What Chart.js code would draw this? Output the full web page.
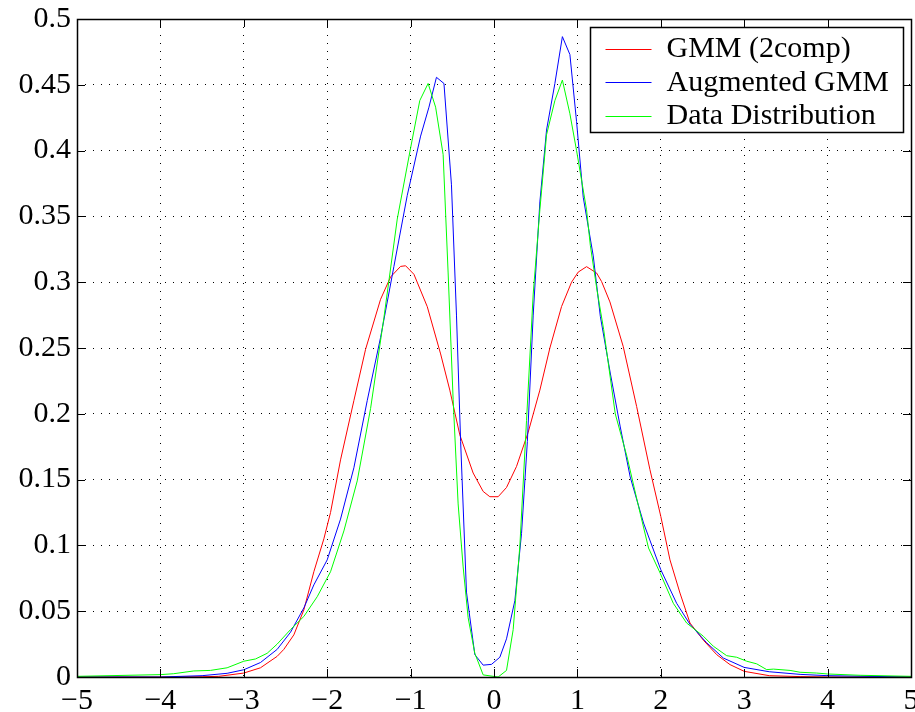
<!DOCTYPE html>
<html lang="en">
<head>
<meta charset="utf-8">
<title>GMM (2comp) vs Augmented GMM vs Data Distribution</title>
<script src="https://cdn.jsdelivr.net/npm/chart.js@4.4.0/dist/chart.umd.min.js"></script>
<style>
  html, body { margin: 0; padding: 0; background: #fff; }
  #wrap { width: 915px; height: 712px; }
</style>
</head>
<body>
<div id="wrap"><canvas id="chart" width="915" height="712"></canvas></div>
<script>
// series labels
const seriesNames = ['GMM (2comp)', 'Augmented GMM', 'Data Distribution'];

// GMM (2comp) - red
const gmmX = [-5, -4, -3.5, -3.3, -3, -2.8, -2.6, -2.52, -2.4, -2.28, -2.16, -2.04, -1.96, -1.84, -1.68, -1.54, -1.36, -1.24, -1.12, -1.06, -0.96, -0.8, -0.64, -0.53, -0.41, -0.25, -0.13, -0.05, 0.05, 0.15, 0.27, 0.41, 0.55, 0.67, 0.81, 0.93, 1.01, 1.11, 1.23, 1.29, 1.39, 1.55, 1.71, 1.87, 2.0, 2.11, 2.23, 2.35, 2.51, 2.67, 2.83, 3.0, 3.3, 3.67, 4, 5];
const gmmY = [0, 0, 0.0002, 0.0005, 0.003, 0.007, 0.0157, 0.021, 0.032, 0.051, 0.08, 0.105, 0.125, 0.165, 0.21, 0.249, 0.287, 0.304, 0.312, 0.3125, 0.306, 0.2814, 0.2455, 0.218, 0.184, 0.155, 0.141, 0.137, 0.137, 0.144, 0.16, 0.186, 0.218, 0.25, 0.2815, 0.30, 0.3077, 0.3118, 0.307, 0.3005, 0.285, 0.251, 0.2056, 0.1575, 0.122, 0.089, 0.0638, 0.041, 0.028, 0.017, 0.0094, 0.0043, 0.001, 0.0003, 0, 0];

// Augmented GMM - blue
const augX = [-5, -4, -3.5, -3.2, -3, -2.8, -2.6, -2.44, -2.28, -2.16, -2.0, -1.84, -1.68, -1.52, -1.36, -1.2, -1.04, -0.88, -0.78, -0.69, -0.6, -0.51, -0.45, -0.4, -0.33, -0.23, -0.13, -0.03, 0.07, 0.15, 0.25, 0.33, 0.4, 0.47, 0.55, 0.63, 0.73, 0.82, 0.91, 0.99, 1.07, 1.19, 1.275, 1.394, 1.514, 1.633, 1.793, 2.0, 2.19, 2.35, 2.55, 2.75, 3.0, 3.3, 3.67, 4, 5];
const augY = [0, 0, 0.001, 0.0028, 0.0055, 0.011, 0.021, 0.034, 0.0525, 0.07, 0.089, 0.12, 0.159, 0.21, 0.258, 0.312, 0.366, 0.411, 0.433, 0.4557, 0.451, 0.374, 0.275, 0.179, 0.0645, 0.017, 0.009, 0.0096, 0.015, 0.029, 0.058, 0.109, 0.179, 0.275, 0.361, 0.4156, 0.451, 0.4866, 0.473, 0.422, 0.3645, 0.32, 0.274, 0.231, 0.19, 0.152, 0.117, 0.0815, 0.056, 0.04, 0.026, 0.0144, 0.0073, 0.004, 0.002, 0.001, 0];

// Data Distribution - green
const dataX = [-5, -4, -3.84, -3.6, -3.4, -3.2, -3, -2.86, -2.72, -2.6, -2.44, -2.28, -2.12, -1.96, -1.8, -1.64, -1.48, -1.32, -1.16, -1.0, -0.89, -0.79, -0.7, -0.61, -0.55, -0.49, -0.43, -0.37, -0.31, -0.23, -0.13, 0.05, 0.15, 0.23, 0.31, 0.39, 0.47, 0.55, 0.63, 0.73, 0.82, 0.91, 0.99, 1.11, 1.155, 1.235, 1.315, 1.454, 1.594, 1.733, 1.853, 1.992, 2.15, 2.31, 2.51, 2.63, 2.79, 2.91, 3.03, 3.15, 3.27, 3.35, 3.55, 3.67, 3.87, 4, 4.39, 5];
const dataY = [0.0005, 0.0018, 0.0025, 0.0046, 0.005, 0.007, 0.012, 0.0137, 0.018, 0.025, 0.036, 0.046, 0.061, 0.08, 0.111, 0.149, 0.204, 0.273, 0.348, 0.402, 0.438, 0.451, 0.433, 0.397, 0.307, 0.211, 0.1315, 0.0836, 0.045, 0.018, 0.0016, 0, 0.005, 0.036, 0.0996, 0.195, 0.291, 0.355, 0.412, 0.438, 0.4536, 0.428, 0.40, 0.355, 0.328, 0.294, 0.264, 0.2, 0.1676, 0.1296, 0.098, 0.079, 0.056, 0.041, 0.031, 0.0234, 0.0162, 0.015, 0.012, 0.01, 0.0056, 0.006, 0.005, 0.0036, 0.003, 0.0023, 0.0013, 0.0005];

// axis ticks
const xTicks = [-5, -4, -3, -2, -1, 0, 1, 2, 3, 4, 5];
const yTicks = [0, 0.05, 0.1, 0.15, 0.2, 0.25, 0.3, 0.35, 0.4, 0.45, 0.5];

const FONT = "'Liberation Serif', 'Times New Roman', serif";
const FONT_SIZE = 30;

function toPoints(xs, ys) {
    return xs.map((x, i) => ({ x: x, y: ys[i] }));
}

// matlab style box, inner tick marks and boxed legend
const matlabAxes = {
    id: 'matlabAxes',
    afterDraw(chart) {
        const ctx = chart.ctx;
        const area = chart.chartArea;
        const xs = chart.scales.x;
        const ys = chart.scales.y;
        const tickLen = 8;

        ctx.save();
        ctx.strokeStyle = '#000';
        ctx.lineWidth = 1;
        ctx.setLineDash([]);
        ctx.beginPath();
        xTicks.forEach(v => {
            const px = Math.round(xs.getPixelForValue(v)) + 0.5;
            ctx.moveTo(px, area.bottom); ctx.lineTo(px, area.bottom - tickLen);
            ctx.moveTo(px, area.top); ctx.lineTo(px, area.top + tickLen);
        });
        yTicks.forEach(v => {
            const py = Math.round(ys.getPixelForValue(v)) + 0.5;
            ctx.moveTo(area.left, py); ctx.lineTo(area.left + tickLen, py);
            ctx.moveTo(area.right, py); ctx.lineTo(area.right - tickLen, py);
        });
        ctx.stroke();

        ctx.lineWidth = 1.5;
        ctx.strokeRect(Math.round(area.left) + 0.5, Math.round(area.top) + 0.5,
            Math.round(area.right - area.left), Math.round(area.bottom - area.top));

        // legend
        const boxW = 313, boxH = 105;
        const bx = Math.round(area.right - 8 - boxW) + 0.5;
        const by = Math.round(area.top + 8) + 0.5;
        ctx.fillStyle = '#fff';
        ctx.fillRect(bx, by, boxW, boxH);
        ctx.lineWidth = 1.5;
        ctx.strokeStyle = '#000';
        ctx.strokeRect(bx, by, boxW, boxH);
        ctx.font = FONT_SIZE + 'px ' + FONT;
        ctx.textBaseline = 'middle';
        ctx.textAlign = 'left';
        chart.data.datasets.forEach((ds, i) => {
            const cy = by + 21 + i * 33.5;
            ctx.strokeStyle = ds.borderColor;
            ctx.lineWidth = 1;
            ctx.beginPath();
            ctx.moveTo(bx + 15, Math.round(cy) + 0.5);
            ctx.lineTo(bx + 61, Math.round(cy) + 0.5);
            ctx.stroke();
            ctx.fillStyle = '#000';
            ctx.fillText(ds.label, bx + 76, cy + 1);
        });
        ctx.restore();
    }
};

const chartConfig = {
    type: 'line',
    data: {
        datasets: [
            { label: seriesNames[0], data: toPoints(gmmX, gmmY), borderColor: '#ff0000', order: 3 },
            { label: seriesNames[1], data: toPoints(augX, augY), borderColor: '#0000ff', order: 2 },
            { label: seriesNames[2], data: toPoints(dataX, dataY), borderColor: '#00ff00', order: 1 }
        ]
    },
    options: {
        responsive: false,
        animation: false,
        events: [],
        layout: { padding: { top: 19, right: 4, left: 0, bottom: 0 } },
        elements: {
            line: { borderWidth: 1, tension: 0, fill: false },
            point: { radius: 0 }
        },
        plugins: {
            legend: { display: false },
            tooltip: { enabled: false }
        },
        scales: {
            x: {
                type: 'linear',
                min: -5,
                max: 5,
                afterBuildTicks: scale => { scale.ticks = xTicks.map(v => ({ value: v })); },
                afterFit: scale => {
                    scale.height = 35;
                    scale.paddingLeft = 0;
                    scale.paddingRight = 0;
                },
                ticks: {
                    color: '#000',
                    font: { family: FONT, size: FONT_SIZE },
                    padding: 6,
                    maxRotation: 0,
                    autoSkip: false,
                    callback: v => (v < 0 ? '\u2212' + Math.abs(v) : String(v))
                },
                grid: { color: '#000', lineWidth: 1, drawTicks: false },
                border: { display: false, dash: [1, 7] }
            },
            y: {
                type: 'linear',
                min: 0,
                max: 0.5,
                afterBuildTicks: scale => { scale.ticks = yTicks.map(v => ({ value: v })); },
                afterFit: scale => {
                    scale.width = 77;
                    scale.paddingTop = 0;
                    scale.paddingBottom = 0;
                },
                ticks: {
                    color: '#000',
                    font: { family: FONT, size: FONT_SIZE },
                    padding: 6,
                    autoSkip: false,
                    callback: v => String(parseFloat(v.toFixed(2)))
                },
                grid: { color: '#000', lineWidth: 1, drawTicks: false },
                border: { display: false, dash: [1, 7] }
            }
        }
    },
    plugins: [matlabAxes]
};

new Chart(document.getElementById('chart'), chartConfig);
</script>
</body>
</html>
